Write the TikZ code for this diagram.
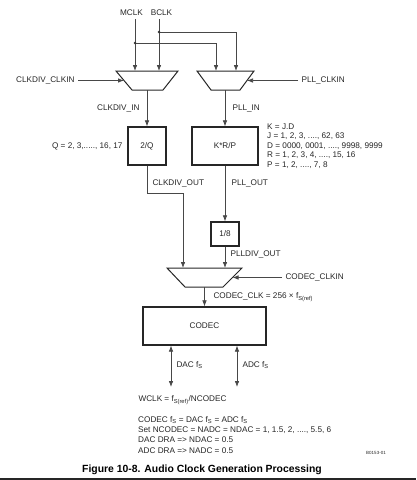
\documentclass[tikz,border=0pt]{standalone}
\usepackage{fontspec}
\setmainfont{Liberation Sans}
\usetikzlibrary{
    arrows.meta,
    positioning
}

\begin{document}
\begin{tikzpicture}[x=1pt, y=-1pt,
    font=\fontsize{8.2}{9.5}\selectfont, text=black!85,
    >={Latex[length=6pt,width=4.6pt]},
    wire/.style={draw=black!72, line width=0.75pt},
    blk/.style={draw=black!85, line width=1.3pt, inner sep=0pt},
    mux/.style={draw=black!85, line width=1pt, line join=miter}]
    \useasboundingbox (0,0) rectangle (416,480);

    % clock inputs
    \node (mclk) at (131.5,13) {MCLK};
    \node (bclk) at (161.5,13) {BCLK};
    \coordinate (jm) at (135,43);
    \coordinate (jb) at (159,32);

    % muxes
    \draw[mux] (116,71) -- (178,71) -- (163,90) -- (132,90) -- cycle;
    \draw[mux] (197,71) -- (254,71) -- (240,90) -- (211,90) -- cycle;
    \draw[mux] (167,268) -- (242,268) -- (223,287) -- (185,287) -- cycle;
    \coordinate (m1a) at (135,71);
    \coordinate (m1b) at (159,71);
    \coordinate (m1side) at (124,80.5);
    \coordinate (m1out) at (147,90);
    \coordinate (m2a) at (216,71);
    \coordinate (m2b) at (236,71);
    \coordinate (m2side) at (247,80.5);
    \coordinate (m2out) at (225,90);
    \coordinate (m3a) at (183,268);
    \coordinate (m3b) at (225,268);
    \coordinate (m3side) at (232.5,277.5);
    \coordinate (m3out) at (204.5,287);

    \node[anchor=east] (cdclkin) at (78,80.5) {CLKDIV\_CLKIN};
    \node[anchor=west] (pllclkin) at (298,80.5) {PLL\_CLKIN};
    \node[anchor=west] (cdcclkin) at (282,277.5) {CODEC\_CLKIN};

    % dividers and codec
    \node[blk, minimum width=38pt, minimum height=38pt] (divq) at (147,146) {2/Q};
    \node[blk, minimum width=66pt, minimum height=38pt] (pll) at (225,146) {K*R/P};
    \node[blk, minimum width=28pt, minimum height=24pt] (div8) at (225,234) {1/8};
    \node[blk, minimum width=123pt, minimum height=38pt] (codec) at (204.5,326) {CODEC};

    % signal names
    \node[anchor=east] (cdin) at (143,108) {CLKDIV\_IN};
    \node[anchor=west] (pllin) at (229,108) {PLL\_IN};
    \node[anchor=east] (qval) at (126,146) {Q = 2, 3,....., 16, 17};
    \node[anchor=north west, align=left, inner sep=0pt] (kval) at (267,123.5)
        {K = J.D\\J = 1, 2, 3, ...., 62, 63\\D = 0000, 0001, ...., 9998, 9999\\R = 1, 2, 3, 4, ...., 15, 16\\P = 1, 2, ...., 7, 8};
    \node[anchor=west] (cdout) at (149,183) {CLKDIV\_OUT};
    \node[anchor=west] (pllout) at (228,183) {PLL\_OUT};
    \node[anchor=west] (plldivout) at (227,254) {PLLDIV\_OUT};
    \node[anchor=west] (cdcclk) at (210,297) {CODEC\_CLK = 256 × f\textsubscript{S(ref)}};

    \coordinate (k1) at (183,193);
    \coordinate (dac) at (171,387);
    \coordinate (adc) at (237,387);
    \node[anchor=west] (dacfs) at (173,365) {DAC f\textsubscript{S}};
    \node[anchor=west] (adcfs) at (239,365) {ADC f\textsubscript{S}};

    \node[anchor=west] (wclk) at (135,400) {WCLK = f\textsubscript{S(ref)}/NCODEC};
    \node[anchor=north west, align=left, inner sep=0pt, font=\fontsize{8.2}{10.3}\selectfont] (notes) at (138,416)
        {CODEC f\textsubscript{S} = DAC f\textsubscript{S} = ADC f\textsubscript{S}\\Set NCODEC = NADC = NDAC = 1, 1.5, 2, ...., 5.5, 6\\DAC DRA => NDAC = 0.5\\ADC DRA => NADC = 0.5};
    \node[font=\fontsize{4.5}{5}\selectfont] (fignum) at (376,453) {B0153-01};
    \node[font=\bfseries\fontsize{10.4}{12}\selectfont, text=black] (cap) at (202,470)
        {Figure 10-8. Audio Clock Generation Processing};

    % connections
    \draw[wire, ->] (mclk.south -| m1a) -- (m1a);
    \draw[wire, ->] (bclk.south -| m1b) -- (m1b);
    \draw[wire, ->] (jm) -| (m2a);
    \draw[wire, ->] (jb) -| (m2b);
    \fill[black!80] (jm) circle (1.4pt) (jb) circle (1.4pt);
    \draw[wire, ->] (cdclkin) -- (m1side);
    \draw[wire, ->] (pllclkin) -- (m2side);
    \draw[wire, ->] (m1out) -- (divq);
    \draw[wire, ->] (m2out) -- (pll);
    \draw[wire, ->] (divq) |- (k1) -- (m3a);
    \draw[wire, ->] (pll) -- (div8);
    \draw[wire, ->] (div8) -- (m3b);
    \draw[wire, ->] (cdcclkin) -- (m3side);
    \draw[wire, ->] (m3out) -- (codec);
    \draw[wire, <->] (dac |- codec.south) -- (dac);
    \draw[wire, <->] (adc |- codec.south) -- (adc);

    \draw[black!85, line width=2.5pt] (0,479) -- (416,479);
\end{tikzpicture}
\end{document}
